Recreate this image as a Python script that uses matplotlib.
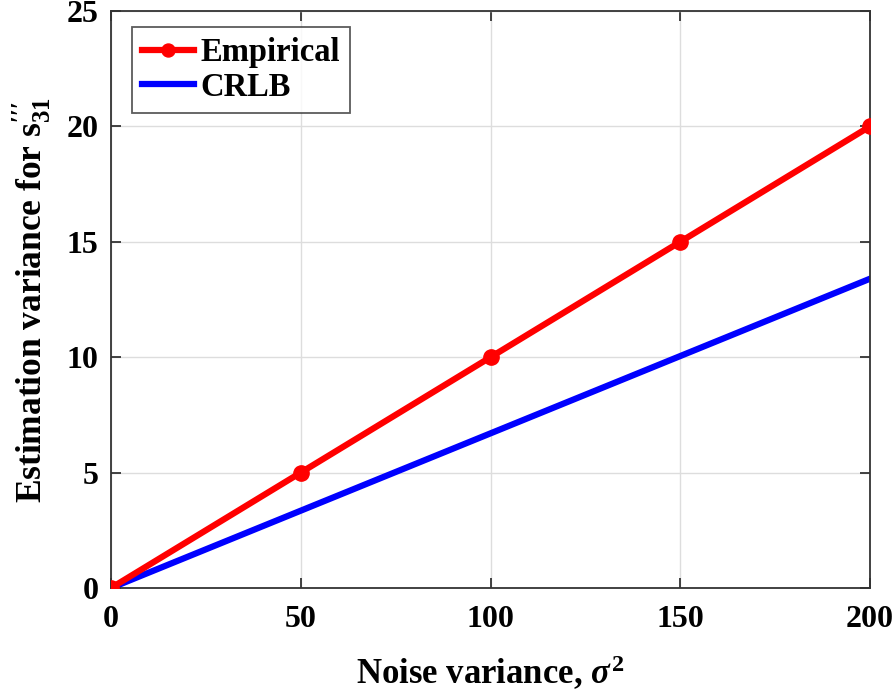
import matplotlib
matplotlib.use("Agg")
import matplotlib.pyplot as plt

noise_var = [0, 50, 100, 150, 200]
empirical = [0, 5, 10, 15, 20]
crlb_x = [0, 200]
crlb = [0, 13.4]

plt.rcParams['font.family'] = 'Liberation Serif'
plt.rcParams['font.weight'] = 'bold'
plt.rcParams['mathtext.fontset'] = 'custom'
plt.rcParams['mathtext.rm'] = 'Liberation Serif:bold'
plt.rcParams['mathtext.it'] = 'Liberation Serif:bold:italic'
plt.rcParams['mathtext.bf'] = 'Liberation Serif:bold'

fig = plt.figure(figsize=(8.94, 6.90), dpi=100)
ax = fig.add_axes([111/894, 1-588/690, (870-111)/894, (588-11)/690])

ax.plot(noise_var, empirical, color='#ff0000', lw=4.5, marker='o', ms=11, label='Empirical', zorder=3)
ax.plot(crlb_x, crlb, color='#0000ff', lw=4.5, label='CRLB', zorder=2)

ax.set_xlim(0, 200)
ax.set_ylim(0, 25)
ax.set_xticks([0, 50, 100, 150, 200])
ax.set_yticks([0, 5, 10, 15, 20, 25])
ax.grid(True, color='#dddddd', lw=1)
ax.set_axisbelow(True)
for s in ax.spines.values():
    s.set_color('#333333')
    s.set_linewidth(1.3)
ax.tick_params(direction='in', length=7, width=1.3, color='#333333', labelsize=23,
               top=True, right=True)
ax.tick_params(axis='x', pad=12)
ax.tick_params(axis='y', pad=9)
for lab in ax.get_xticklabels() + ax.get_yticklabels():
    lab.set_fontweight('bold')

ax.set_xlabel(r"Noise variance, $\sigma^2$", fontsize=25, fontweight='bold', labelpad=14)
ax.set_ylabel(r"Estimation variance for $\mathrm{s}_{31}^{\prime\prime\prime}$",
              fontsize=25.5, fontweight='bold', labelpad=10)

leg = ax.legend(loc='upper left', fontsize=23.5, frameon=True, fancybox=False,
                edgecolor='#333333', handlelength=1.6, handletextpad=0.2,
                borderpad=0.3, labelspacing=0.12, borderaxespad=0,
                markerscale=0.85, bbox_to_anchor=(0.028, 0.972))
leg.get_frame().set_linewidth(1.3)
for t in leg.get_texts():
    t.set_fontweight('bold')

fig.savefig('out.png', dpi=100)
